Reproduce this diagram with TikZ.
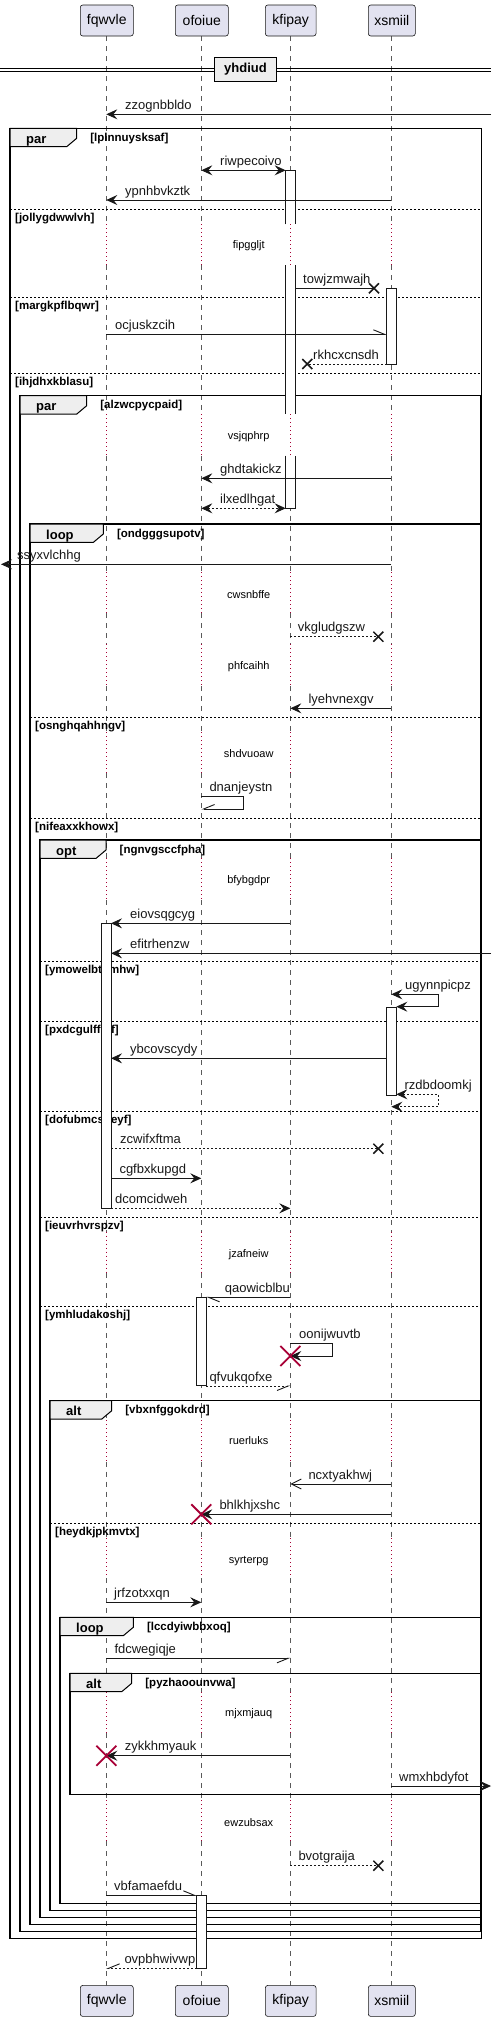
\documentclass[tikz,border=0pt]{standalone}
\usepackage{fontspec}
\setmainfont{Liberation Sans}
\usetikzlibrary{arrows.meta}
\definecolor{partfill}{HTML}{E2E2F0}
\definecolor{partdraw}{HTML}{181818}
\definecolor{tabfill}{HTML}{EEEEEE}
\definecolor{delayred}{HTML}{A80036}
\definecolor{lifegray}{HTML}{5A5A5A}
\definecolor{ink}{HTML}{181818}
\newcommand\msgfont{\fontsize{13}{15}\selectfont}
\newcommand\delayfont{\fontsize{11}{13}\selectfont}
\newcommand\guardfont{\fontsize{11.5}{13}\selectfont\bfseries}
\newcommand\tabfont{\fontsize{13}{15}\selectfont\bfseries}
\newcommand\mymsg[6]{%
  \coordinate (#1-s) at (#2,#4);
  \coordinate (#1-e) at (#3,#4);
  \draw[#5] (#1-s) -- (#1-e);
  \node[lbl] (#1) at (#6,#4-5) {#1};}
\newcommand\myself[8]{%
  \coordinate (#1-s) at (#2,#5);
  \coordinate (#1-o) at (#3,#5);
  \coordinate (#1-p) at (#3,#6);
  \coordinate (#1-e) at (#4,#6);
  \draw[#7] (#1-s) -- (#1-o) -- (#1-p) -- (#1-e);
  \node[lbl] (#1) at (#8,#5-5) {#1};}
\newcommand\lostx[3]{%
  \coordinate (#1) at (#2,#3);
  \draw[xmark] (#1) +(-5,-5) -- +(5,5) (#1) +(-5,5) -- +(5,-5);}
\newcommand\redx[3]{%
  \coordinate (#1) at (#2,#3);
  \draw[redxmark] (#1) +(-10,-10) -- +(10,10) (#1) +(-10,10) -- +(10,-10);}
\newcommand\myframe[8]{%
  \draw[frame] (#2,#3) rectangle (#5,#4);
  \draw[tab] (#2,#3) -- (#6,#3) -- (#6,#3+10) -- (#6-10,#3+18.4) -- (#2,#3+18.4) -- cycle;
  \node[tablbl] (#1-k) at (#2+16,#3+15) {#7};
  \node[guardlbl] (#1-g) at (#6+13.5,#3+13) {[#8]};}
\newcommand\mysep[4]{%
  \coordinate (#1-a) at (#2,#3);
  \coordinate (#1-b) at (481,#3);
  \draw[sepline] (#1-a) -- (#1-b);
  \node[guardlbl] (#1) at (#2+5,#3+12) {[#4]};}
\newcommand\mydelay[2]{\node[delaytxt] (#1) at (248.7,#2) {#1};}
\begin{document}
\begin{tikzpicture}[x=1pt,y=-1pt,
  part/.style={draw=partdraw,fill=partfill,rounded corners=2.5pt,line width=0.6pt,minimum height=31pt,inner sep=0pt,font=\fontsize{14}{16}\selectfont},
  life/.style={draw=lifegray,line width=0.6pt,dash pattern=on 5pt off 5pt},
  delayline/.style={draw=delayred,line width=0.8pt,dash pattern=on 1pt off 3pt},
  msg/.style={draw=ink,line width=0.9pt},
  ret/.style={msg,dash pattern=on 2pt off 2pt},
  fa/.style={-{Stealth[length=11pt,width=10pt,inset=4pt]}},
  fab/.style={{Stealth[length=11pt,width=10pt,inset=4pt]}-{Stealth[length=11pt,width=10pt,inset=4pt]}},
  oa/.style={-{Straight Barb[length=10pt,width=10pt]}},
  hL/.style={-{Straight Barb[left,length=11pt,width=9pt]}},
  hR/.style={-{Straight Barb[right,length=11pt,width=9pt]}},
  frame/.style={draw=black,line width=1.5pt},
  tab/.style={draw=black,fill=tabfill,line width=1pt},
  tablbl/.style={anchor=base west,inner sep=0pt,font=\tabfont},
  guardlbl/.style={anchor=base west,inner sep=0pt,font=\guardfont},
  sepline/.style={draw=black,line width=1pt,dash pattern=on 2pt off 2pt},
  act/.style={draw=ink,fill=white,line width=1pt},
  actline/.style={draw=ink,line width=1pt},
  lbl/.style={anchor=base west,inner sep=0pt,font=\msgfont,text=ink},
  delaytxt/.style={inner sep=0pt,font=\delayfont},
  xmark/.style={draw=ink,line width=1.5pt},
  redxmark/.style={draw=delayred,line width=1.8pt}
]
\useasboundingbox (0,0) rectangle (497,2021);
% lifelines
\foreach \x in {106.3,201.3,290.3,391.3}{
  \foreach \a/\b in {36/224.3,265/414.3,455.7/572,613/644.4,686/732,773.3/858.3,900/1231.5,1273.3/1420,1461.7/1538.3,1578.3/1692,1733/1800,1841/1985.7}{
    \draw[life] (\x,\a) -- (\x,\b);}
  \foreach \a/\b in {224.3/265,414.3/455.7,572/613,644.4/686,732/773.3,858.3/900,1231.5/1273.3,1420/1461.7,1538.3/1578.3,1692/1733,1800/1841}{
    \draw[delayline] (\x,\a) -- (\x,\b);}
}
% participants
\node[part,minimum width=53pt] (fqwvle) at (106.8,20.5) {fqwvle};
\node[part,minimum width=53pt] (ofoiue) at (201.8,20.5) {ofoiue};
\node[part,minimum width=50.7pt] (kfipay) at (290.7,20.5) {kfipay};
\node[part,minimum width=47pt] (xsmiil) at (391.8,20.5) {xsmiil};
\node[part,minimum width=53pt] (fqwvle-b) at (106.8,2000.9) {fqwvle};
\node[part,minimum width=53pt] (ofoiue-b) at (201.8,2000.9) {ofoiue};
\node[part,minimum width=50.7pt] (kfipay-b) at (290.7,2000.9) {kfipay};
\node[part,minimum width=47pt] (xsmiil-b) at (391.8,2000.9) {xsmiil};
% divider
\draw[line width=1pt] (0,68.3) -- (491,68.3) (0,71.6) -- (491,71.6);
\node[draw=black,line width=1.5pt,fill=tabfill,minimum width=62.4pt,minimum height=24pt,font=\tabfont,inner sep=0pt] (yhdiud) at (245.5,69.3) {yhdiud};
% frames
\myframe{f1}{10}{128.3}{1938.7}{481.7}{76.7}{par}{lplnnuysksaf}
\myframe{f2}{20}{395.7}{1931.3}{481}{86.7}{par}{alzwcpycpaid}
\myframe{f3}{30}{524}{1924.3}{481}{103.3}{loop}{ondgggsupotv}
\myframe{f4}{40}{840}{1917.3}{481}{106}{opt}{ngnvgsccfpha}
\myframe{f5}{50}{1400.7}{1910.7}{481}{111.7}{alt}{vbxnfggokdrd}
\myframe{f6}{60}{1617.3}{1903.3}{481}{133.3}{loop}{lccdyiwbbxoq}
\myframe{f7}{70}{1673.3}{1794.3}{481}{131.7}{alt}{pyzhaoounvwa}
% separators
\mysep{s1}{10}{209}{jollygdwwlvh}
\mysep{s2}{10}{297.3}{margkpflbqwr}
\mysep{s3}{10}{373.3}{ihjdhxkblasu}
\mysep{s4}{30}{717.3}{osnghqahhngv}
\mysep{s5}{30}{818.3}{nifeaxxkhowx}
\mysep{s6}{40}{961.7}{ymowelbtnmhw}
\mysep{s7}{40}{1021.7}{pxdcgulfflbf}
\mysep{s8}{40}{1111}{dofubmcsueyf}
\mysep{s9}{40}{1217.7}{ieuvrhvrspzv}
\mysep{s10}{40}{1306}{ymhludakoshj}
\mysep{s11}{50}{1523.3}{heydkjpkmvtx}
% delays
\mydelay{fipggljt}{246}
\mydelay{vsjqphrp}{436.7}
\mydelay{cwsnbffe}{594.3}
\mydelay{phfcaihh}{666.7}
\mydelay{shdvuoaw}{754}
\mydelay{bfybgdpr}{880.7}
\mydelay{jzafneiw}{1254.3}
\mydelay{ruerluks}{1440.7}
\mydelay{syrterpg}{1560.7}
\mydelay{mjxmjauq}{1713.3}
\mydelay{ewzubsax}{1822.7}
% activations
\fill[white] (285.7,170.3) rectangle (295.3,224.3);
\draw[actline] (285.7,224.3) -- (285.7,170.3) -- (295.3,170.3) -- (295.3,224.3);
\fill[white] (285.7,265) rectangle (295.3,414.3);
\draw[actline] (285.7,265) -- (285.7,414.3) (295.3,265) -- (295.3,414.3);
\fill[white] (285.7,455.7) rectangle (295.3,508.3);
\draw[actline] (285.7,455.7) -- (285.7,508.3) -- (295.3,508.3) -- (295.3,455.7);
\draw[act] (386.7,288.3) rectangle (396.3,364);
\draw[act] (101.3,923.3) rectangle (111,1208.3);
\draw[act] (386.7,1007.3) rectangle (396.3,1095.3);
\draw[act] (196.7,1297.3) rectangle (206.3,1385.7);
\draw[act] (196.7,1895.3) rectangle (206.3,1968.3);
% messages
\mymsg{zzognbbldo}{491}{106.3}{114.3}{msg,fa}{125}
\mymsg{riwpecoivo}{201.3}{285.7}{170.3}{msg,fab}{220}
\mymsg{ypnhbvkztk}{391.3}{106.3}{200}{msg,fa}{125}
\mymsg{towjzmwajh}{295.3}{374}{288.3}{msg}{303}
\lostx{x1}{374}{288.3}
\mymsg{ocjuskzcih}{106.3}{386.7}{334.3}{msg,hL}{115}
\mymsg{rkhcxcnsdh}{386.7}{307.3}{364}{ret}{313}
\lostx{x2}{307.3}{364}
\mymsg{ghdtakickz}{391.3}{201.3}{478.3}{msg,fa}{220}
\mymsg{ilxedlhgat}{201.3}{285.7}{508.3}{ret,fab}{220}
\mymsg{ssyxvlchhg}{391.3}{1}{564.3}{msg,fa}{17}
\mymsg{vkgludgszw}{290.3}{378.3}{636.7}{ret}{297.7}
\lostx{x3}{378.3}{636.7}
\mymsg{lyehvnexgv}{391.3}{290.3}{708.3}{msg,fa}{308.3}
\myself{dnanjeystn}{201.3}{243.3}{201.3}{796}{809}{msg,hR}{209.3}
\mymsg{eiovsqgcyg}{290.3}{111}{923.3}{msg,fa}{130}
\mymsg{efitrhenzw}{491}{111}{953.3}{msg,fa}{130}
\myself{ugynnpicpz}{391.3}{438.3}{396.3}{994.3}{1006.7}{msg,fab}{405}
\mymsg{ybcovscydy}{386.7}{111}{1058.3}{msg,fa}{130}
\myself{rzdbdoomkj}{396.3}{438.3}{391.3}{1094.3}{1106.7}{ret,fab}{404.3}
\mymsg{zcwifxftma}{111}{378.3}{1148.7}{ret}{120}
\lostx{x4}{378.3}{1148.7}
\mymsg{cgfbxkupgd}{111}{201.3}{1178.3}{msg,fa}{119.3}
\mymsg{dcomcidweh}{111}{290.3}{1208.3}{ret,fa}{115}
\mymsg{qaowicblbu}{290.3}{206.3}{1297.3}{msg,hL}{224.7}
\myself{oonijwuvtb}{290.3}{332.3}{290.3}{1343.3}{1356}{msg,fa}{299}
\redx{d1}{290.3}{1356}
\mymsg{qfvukqofxe}{206.3}{290.3}{1386}{ret,hR}{209.3}
\mymsg{ncxtyakhwj}{391.3}{290.3}{1484}{msg,oa}{308.3}
\mymsg{bhlkhjxshc}{391.3}{201.3}{1514.3}{msg,fa}{219.3}
\redx{d2}{201.3}{1514.3}
\mymsg{jrfzotxxqn}{106.3}{201.3}{1602.3}{msg,fa}{114}
\mymsg{fdcwegiqje}{106.3}{290.3}{1658.3}{msg,hR}{114.3}
\mymsg{zykkhmyauk}{290.3}{106.3}{1755.7}{msg,fa}{124.7}
\redx{d3}{106.3}{1755.7}
\mymsg{wmxhbdyfot}{391.3}{491}{1786}{msg,fa}{399}
\mymsg{bvotgraija}{290.3}{378.3}{1865.7}{ret}{298.3}
\lostx{x5}{378.3}{1865.7}
\mymsg{vbfamaefdu}{106.3}{196.7}{1895.3}{msg,hL}{114}
\mymsg{ovpbhwivwp}{196.7}{106.3}{1968.3}{ret,hR}{124.3}
\end{tikzpicture}
\end{document}
